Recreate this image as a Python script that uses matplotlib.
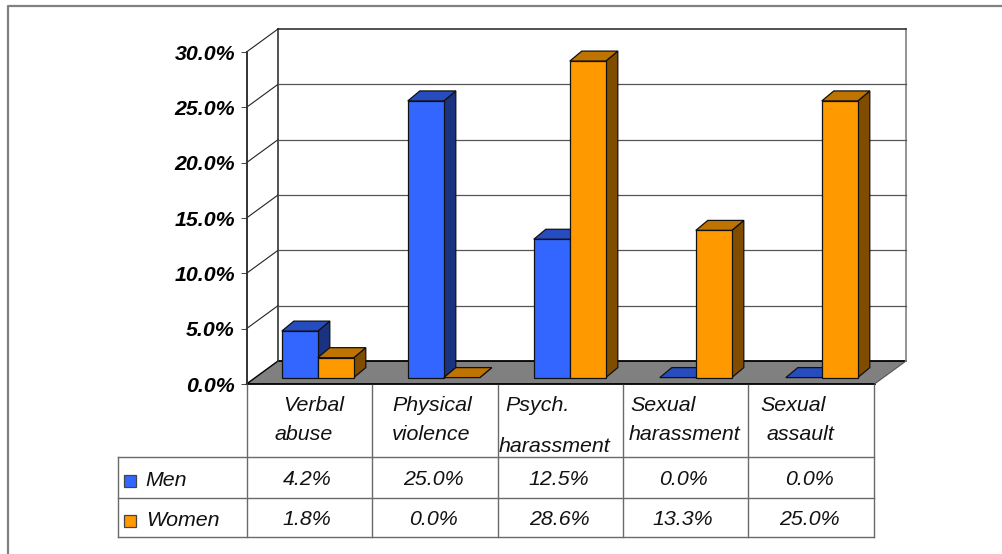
import matplotlib
matplotlib.use("Agg")
import matplotlib.pyplot as plt
from matplotlib.patches import Polygon, Rectangle
from matplotlib.transforms import Affine2D

categories = [["Verbal", "abuse"], ["Physical", "violence"], ["Psych.", "harassment"],
              ["Sexual", "harassment"], ["Sexual", "assault"]]
men = [4.2, 25.0, 12.5, 0.0, 0.0]
women = [1.8, 0.0, 28.6, 13.3, 25.0]
y_ticks = [0, 5, 10, 15, 20, 25, 30]
series_names = ["Men", "Women"]

W, H = 1002, 554
plt.rcParams["font.family"] = ["Liberation Sans", "DejaVu Sans"]
FS = 15.4
fig = plt.figure(figsize=(W / 100, H / 100), dpi=100)
px = Affine2D().scale(1, -1).translate(0, H)  # image pixel coordinates

# axes: 0-5 categories, 0-30 %
L, R, B, T = 246.5, 876.5, 384.0, 52.0
ax = fig.add_axes([L / W, 1 - B / H, (R - L) / W, (B - T) / H])
ax.set_xlim(0, 5)
ax.set_ylim(0, 30)
ax.patch.set_visible(False)
UX = (R - L) / 5
UY = (B - T) / 30

for s in ("top", "right", "bottom"):
    ax.spines[s].set_visible(False)
ax.spines["left"].set_color("#333333")
ax.spines["left"].set_linewidth(1.4)
ax.set_xticks([])
ax.set_yticks(y_ticks)
ax.set_yticklabels([f"{t:.1f}%" for t in y_ticks], fontsize=FS, fontweight="bold", fontstyle="italic")
ax.tick_params(axis="y", length=4.3, width=0.7, pad=4, color="#444444")

WALL_DX, WALL_DY = 31.5 / UX, 23.0 / UY
END = 628 / UX  # right end of the floor
kw = dict(clip_on=False)

# floor
ax.add_patch(Polygon([(0, 0), (END, 0), (END + WALL_DX, WALL_DY), (WALL_DX, WALL_DY)],
                     fc="#808080", ec="none", zorder=1, **kw))
ax.plot([0, END], [0, 0], color="black", lw=1.3, zorder=2, **kw)
ax.plot([WALL_DX, END + WALL_DX], [WALL_DY, WALL_DY], color="black", lw=1.3, zorder=2, **kw)
ax.plot([0, WALL_DX], [0, WALL_DY], color="black", lw=1.0, zorder=2, **kw)
ax.plot([END, END + WALL_DX], [0, WALL_DY], color="#555555", lw=0.8, zorder=2, **kw)

# walls and gridlines
top = y_ticks[-1] + WALL_DY
ax.plot([WALL_DX, WALL_DX], [WALL_DY, top], color="#333333", lw=1.2, zorder=2, **kw)
ax.plot([END + WALL_DX] * 2, [WALL_DY, top], color="#808080", lw=1.2, zorder=2, **kw)
for t in y_ticks[1:]:
    ax.plot([0, WALL_DX], [t, t + WALL_DY], color="#222222", lw=0.8, zorder=2, **kw)
    ax.plot([WALL_DX, END + WALL_DX], [t + WALL_DY] * 2,
            color="#222222" if t == y_ticks[-1] else "#555555",
            lw=1.1 if t == y_ticks[-1] else 0.9, zorder=2, **kw)

# 3D bars
BAR_W = 36 / UX
BAR_DX, BAR_DY = 12 / UX, 10 / UY
BASE = 6.4 / UY
CENTER0 = (317.8 - L) / UX
PITCH = 1.0


def bar3d(x0, v, front, side, topc, z):
    x1 = x0 + BAR_W
    y0, y1 = BASE, BASE + v
    ec = dict(ec="#111111", lw=0.9, joinstyle="miter", **kw)
    ax.add_patch(Polygon([(x1, y0), (x1 + BAR_DX, y0 + BAR_DY), (x1 + BAR_DX, y1 + BAR_DY), (x1, y1)],
                         fc=side, zorder=z, **ec))
    ax.add_patch(Polygon([(x0, y1), (x1, y1), (x1 + BAR_DX, y1 + BAR_DY), (x0 + BAR_DX, y1 + BAR_DY)],
                         fc=topc, zorder=z, **ec))
    if v > 0:
        ax.bar(x0, v, BAR_W, bottom=y0, align="edge", color=front, edgecolor="#111111",
               linewidth=0.9, zorder=z + 0.1, clip_on=False)


BLUE = ("#3366FF", "#1A3380", "#264CBF")
ORANGE = ("#FF9900", "#804C00", "#BF7300")
for i in range(len(categories)):
    c = CENTER0 + i * PITCH
    bar3d(c - BAR_W, men[i], *BLUE, z=3 + i)
    bar3d(c, women[i], *ORANGE, z=3.5 + i)

# outer frame
fig.add_artist(plt.Line2D([7.5, 7.5, W], [H, 6, 6], transform=px, color="#808080", lw=1.6))

# data table lines
TBL = "#6a6a6a"
col_x = [246.5, 372, 498, 622.5, 748, 874.3]
rows_y = [457, 498, 537]
for i, x in enumerate(col_x):
    fig.add_artist(plt.Line2D([x, x], [385, 537], transform=px, color=TBL, lw=1.0))
fig.add_artist(plt.Line2D([118, 118], [457, 537], transform=px, color=TBL, lw=1.0))
for y in rows_y:
    fig.add_artist(plt.Line2D([118, 874.3], [y, y], transform=px, color=TBL, lw=1.0))

# category labels
label_pos = [[(282.7, 411), (275, 440.5)], [(392, 411), (392, 440)], [(505, 411), (499, 451.5)],
             [(630, 411), (629, 440)], [(760, 411), (767, 440.5)]]
for lines, pos in zip(categories, label_pos):
    for s, (x, y) in zip(lines, pos):
        fig.text(x, y, s, transform=px, fontsize=FS, fontstyle="italic", ha="left", va="baseline", color="#111111")

# legend keys + names
key_y = [474.5, 514.5]
name_x = [145, 146]
name_y = [486.5, 526.5]
for name, col, ky, nx, ny in zip(series_names, (BLUE[0], ORANGE[0]), key_y, name_x, name_y):
    fig.add_artist(Rectangle((124, ky), 12, 12, transform=px, fc=col, ec="#444444", lw=0.9))
    fig.text(nx, ny, name, transform=px, fontsize=FS, fontstyle="italic", ha="left", va="baseline", color="#111111")

# table values
val_x = [307, 433, 559, 683, 809]
for vals, y in zip((men, women), (485, 525)):
    for v, x in zip(vals, val_x):
        fig.text(x, y, f"{v:.1f}%", transform=px, fontsize=FS, fontstyle="italic", ha="center", va="baseline", color="#111111")

fig.savefig("out.png", dpi=100)
